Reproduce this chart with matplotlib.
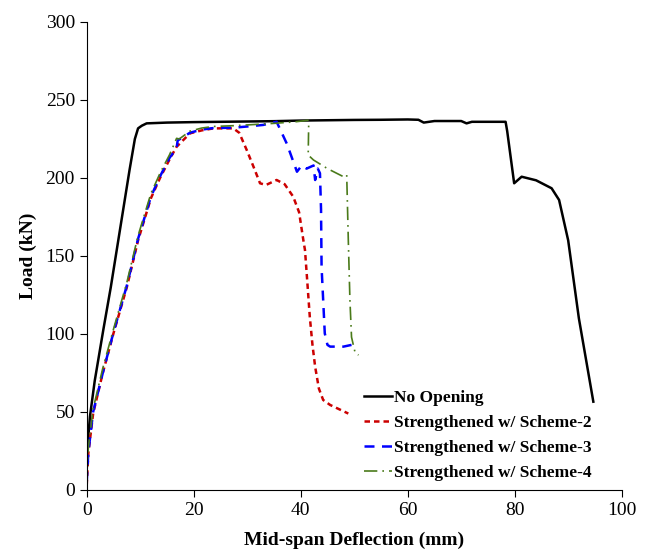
import matplotlib.pyplot as plt

plt.rcParams["font.family"] = ["Liberation Serif", "DejaVu Serif"]

# No Opening
x_no = [0, 0.2, 0.6, 1.5, 3.1, 4.5, 5.9, 8.0, 9.0, 9.6, 10.3, 11.2, 15, 20, 25, 30, 35, 40, 45, 50, 55,
        60, 62, 63, 65, 70, 71, 72, 75, 78.3, 78.6, 79.9, 81.3, 84, 86.9, 88.3, 90, 92, 94.7]
y_no = [15, 30, 47, 70, 102.6, 130, 160, 205, 225, 231.8, 233.5, 235, 235.5, 235.8, 236, 236.2, 236.4, 236.8,
        237, 237.2, 237.3, 237.5, 237.3, 235.5, 236.5, 236.5, 235, 236, 236, 236, 230, 196.6, 200.8, 198.5,
        193.4, 185.9, 160, 110, 56.6]

# Strengthened w/ Scheme-2
x_s2 = [0, 0.3, 1.2, 3, 5.0, 7.5, 9.6, 12, 13.7, 15.5, 16.8, 19.3, 21.5, 23.7, 27.4, 28.5, 29.9, 31.2,
        32.4, 33.5, 35.5, 37, 38.6, 39.7, 40.5, 40.8, 41.2, 41.7, 42.2, 42.7, 43.4, 44.2, 45.5, 48.9]
y_s2 = [3, 23.5, 49, 75, 100.4, 130, 160, 187, 200, 212, 220, 228.6, 230.5, 231.8, 231.8, 229, 218, 207,
        196.6, 195.5, 198.7, 196, 188, 178, 160, 153.8, 135, 111, 93, 79, 65, 57.7, 54.5, 49]

# Strengthened w/ Scheme-3
x_s3 = [0, 0.3, 1.2, 3, 5.0, 7.5, 9.6, 12, 13.7, 15.5, 16.8, 17, 19.3, 21.5, 23.7, 27.4, 30, 33, 35.5,
        37.4, 39.3, 40.2, 41.1, 42.4, 42.7, 43.2, 43.6, 43.8, 43.9, 44.5, 45.0, 45.5, 48, 49.5]
y_s3 = [5, 24, 50, 75, 101, 131, 161, 188, 201, 213, 219, 224, 229, 231, 232, 232.2, 233, 234, 236,
        222, 204, 208, 206, 208, 198.7, 206, 203, 180, 143, 100.4, 93, 91.9, 91.9, 93]

# Strengthened w/ Scheme-4
x_s4 = [0, 0.3, 1.2, 3, 5.0, 7.5, 9.6, 12, 13.7, 15.5, 16.8, 17.3, 19.3, 21.5, 23.7, 27.4, 30, 35,
        39, 41.4, 41.5, 41.4, 42.4, 45, 48, 48.6, 48.9, 49.2, 49.5, 50.2, 50.8]
y_s4 = [8, 27, 52, 78, 103, 133, 163, 190, 203, 215, 225.4, 225, 230, 232, 233, 233.5, 234, 235,
        236, 237, 236, 214.7, 211.5, 206, 200.8, 202, 160, 121.8, 98, 87.6, 86.5]

fig = plt.figure(figsize=(6.52, 5.49), dpi=100)
ax = fig.add_axes([0.133, 0.1075, 0.8205, 0.8525])

ax.plot(x_no, y_no, color="black", lw=1.8, label="No Opening")
ax.plot(x_s2, y_s2, color="#cc0000", lw=1.8, ls=(0, (2.2, 1.6)), label="Strengthened w/ Scheme-2")
ax.plot(x_s3, y_s3, color="#0000ff", lw=1.8, ls=(0, (4, 3)), label="Strengthened w/ Scheme-3")
ax.plot(x_s4, y_s4, color="#4a7a1a", lw=1.2, ls=(0, (8, 3, 1, 3)), label="Strengthened w/ Scheme-4")

ax.set_xlim(0, 100)
ax.set_ylim(0, 300)
ax.set_xticks(range(0, 101, 20))
ax.set_yticks(range(0, 301, 50))
ax.spines["top"].set_visible(False)
ax.spines["right"].set_visible(False)
ax.tick_params(direction="out", length=5, labelsize=14)
ax.set_xlabel("Mid-span Deflection (mm)", fontsize=14, fontweight="bold", labelpad=9)
ax.set_ylabel("Load (kN)", fontsize=14, fontweight="bold", labelpad=6)

ax.legend(loc="lower left", bbox_to_anchor=(0.49, -0.014), frameon=False, handlelength=1.6,
          handletextpad=0.1, labelspacing=0.5, prop={"weight": "bold", "size": 12.5})

fig.savefig("out.png", dpi=100)
